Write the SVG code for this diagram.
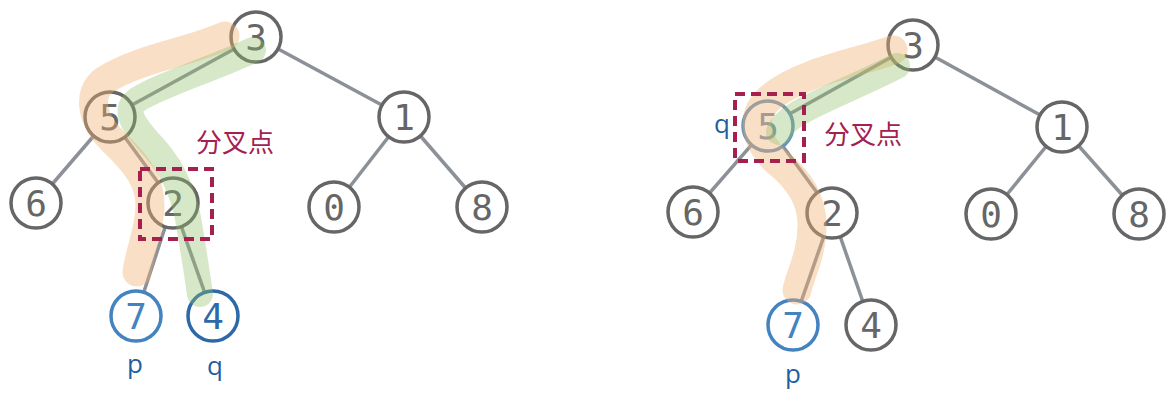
<svg xmlns="http://www.w3.org/2000/svg" width="1174" height="400" viewBox="0 0 1174 400">
<style>
.edge{stroke:#8c9097;stroke-width:3.5;fill:none}
.node circle{fill:#fff;stroke:#666;stroke-width:3.5}
.node text{font-family:"DejaVu Sans Mono","Liberation Mono",monospace;font-size:36px;fill:#666;text-anchor:middle;dominant-baseline:central}
.blue circle{stroke:#4383c0}
.blue text{fill:#4383c0}
.dblue circle{stroke:#2d69a8}
.dblue text{fill:#2d69a8}
.q5 circle{stroke:#6a93b8}
.q5 text{fill:#6f8fae}
.lbl{font-family:"Open Sans","Liberation Sans",sans-serif;font-size:26px;fill:#1f5f9f;text-anchor:middle}
.cn{font-family:"Noto Sans CJK SC",sans-serif;font-size:26px;fill:#a5204f}
.box{fill:none;stroke:#a5204f;stroke-width:4;stroke-dasharray:10 6}
.hl{fill:none;stroke-linecap:round;stroke-linejoin:round}
.or{stroke:#f0b070;stroke-opacity:0.4;stroke-width:29}
.gr{stroke:#8fbf6a;stroke-opacity:0.36;stroke-width:26}
</style>
<g id="connectors">
<line class="edge" x1="256" y1="37" x2="110" y2="117"/>
<line class="edge" x1="256" y1="37" x2="404" y2="117"/>
<line class="edge" x1="110" y1="117" x2="36" y2="203"/>
<line class="edge" x1="110" y1="117" x2="173" y2="203"/>
<line class="edge" x1="404" y1="117" x2="334" y2="207"/>
<line class="edge" x1="404" y1="117" x2="482" y2="207"/>
<line class="edge" x1="173" y1="203" x2="136" y2="316"/>
<line class="edge" x1="173" y1="203" x2="213" y2="316"/>
<line class="edge" x1="913" y1="45" x2="768" y2="126"/>
<line class="edge" x1="913" y1="45" x2="1062" y2="127"/>
<line class="edge" x1="768" y1="126" x2="693" y2="212"/>
<line class="edge" x1="768" y1="126" x2="832" y2="213"/>
<line class="edge" x1="1062" y1="127" x2="991" y2="214"/>
<line class="edge" x1="1062" y1="127" x2="1139" y2="214"/>
<line class="edge" x1="832" y1="213" x2="793" y2="325"/>
<line class="edge" x1="832" y1="213" x2="871" y2="325"/>
</g>
<g id="n-l3" class="node"><circle cx="256" cy="37" r="25"/><text x="256" y="37">3</text></g>
<g id="n-l5" class="node"><circle cx="110" cy="117" r="25"/><text x="110" y="117">5</text></g>
<g id="n-l1" class="node"><circle cx="404" cy="117" r="25"/><text x="404" y="117">1</text></g>
<g id="n-l6" class="node"><circle cx="36" cy="203" r="25"/><text x="36" y="203">6</text></g>
<g id="n-l2" class="node"><circle cx="173" cy="203" r="25"/><text x="173" y="203">2</text></g>
<g id="n-l0" class="node"><circle cx="334" cy="207" r="25"/><text x="334" y="207">0</text></g>
<g id="n-l8" class="node"><circle cx="482" cy="207" r="25"/><text x="482" y="207">8</text></g>
<g id="n-l7" class="node blue"><circle cx="136" cy="316" r="25"/><text x="136" y="316">7</text></g>
<g id="n-l4" class="node dblue"><circle cx="213" cy="316" r="25"/><text x="213" y="316">4</text></g>
<g id="n-r3" class="node"><circle cx="913" cy="45" r="25"/><text x="913" y="45">3</text></g>
<g id="n-r5" class="node q5"><circle cx="768" cy="126" r="25"/><text x="768" y="126">5</text></g>
<g id="n-r1" class="node"><circle cx="1062" cy="127" r="25"/><text x="1062" y="127">1</text></g>
<g id="n-r6" class="node"><circle cx="693" cy="212" r="25"/><text x="693" y="212">6</text></g>
<g id="n-r2" class="node"><circle cx="832" cy="213" r="25"/><text x="832" y="213">2</text></g>
<g id="n-r0" class="node"><circle cx="991" cy="214" r="25"/><text x="991" y="214">0</text></g>
<g id="n-r8" class="node"><circle cx="1139" cy="214" r="25"/><text x="1139" y="214">8</text></g>
<g id="n-r7" class="node blue"><circle cx="793" cy="325" r="25"/><text x="793" y="325">7</text></g>
<g id="n-r4" class="node"><circle cx="871" cy="325" r="25"/><text x="871" y="325">4</text></g>
<g id="highlights">
<path class="hl or" d="M 225 36 C 190 52, 140 58, 105 80 C 86 93, 92 120, 112 140 C 135 162, 150 180, 150 205 C 150 230, 140 250, 137 272"/>
<path class="hl gr" d="M 253 50 C 210 70, 160 85, 137 100 C 120 112, 140 132, 156 150 C 175 172, 186 200, 190 230 C 195 260, 198 280, 200 294"/>
<path class="hl or" d="M 893 50 C 860 62, 800 72, 770 98 C 750 115, 755 140, 775 160 C 800 180, 812 200, 812 225 C 812 255, 800 275, 797 290"/>
<path class="hl gr" d="M 897 66 C 860 85, 820 100, 797 114 C 786 121, 781 127, 779 132"/>
</g>
<g id="boxes">
<rect class="box" x="140" y="169" width="72" height="70"/>
<rect class="box" x="735" y="94" width="69" height="67"/>
</g>
<g id="labels">
<text class="cn" x="196" y="152">分叉点</text>
<text class="cn" x="824" y="144">分叉点</text>
<text class="lbl" x="135" y="373">p</text>
<text class="lbl" x="215" y="375">q</text>
<text class="lbl" x="722" y="133">q</text>
<text class="lbl" x="793" y="383">p</text>
</g>
</svg>
